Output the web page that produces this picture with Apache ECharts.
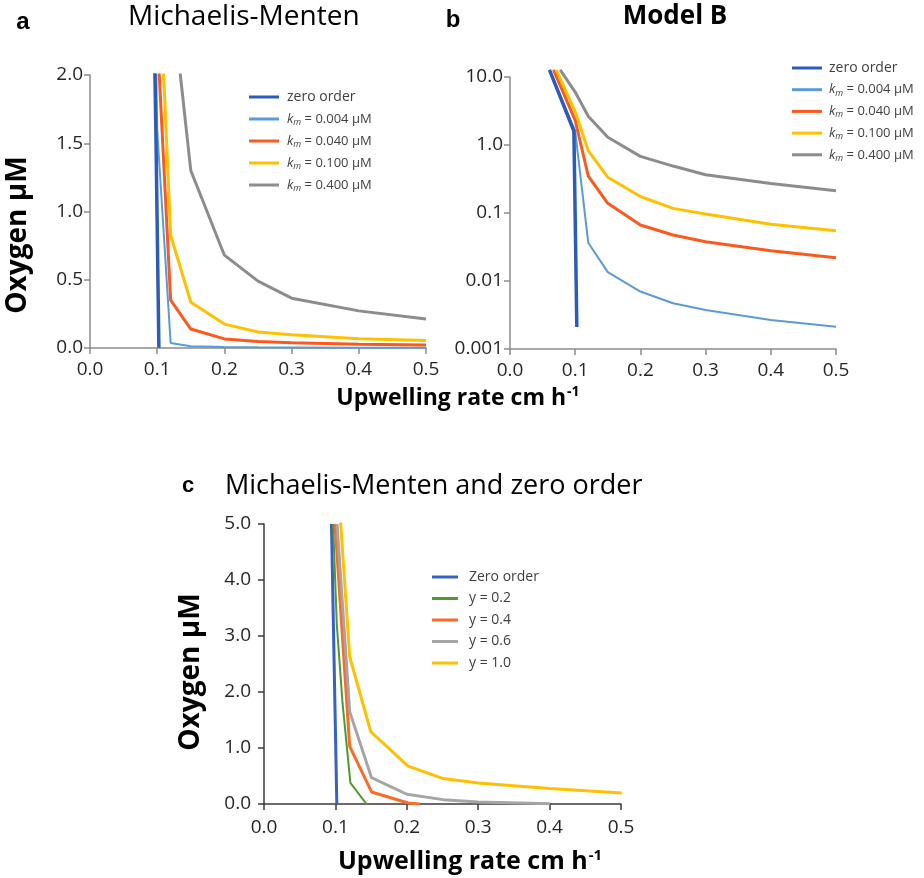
<!DOCTYPE html>
<html>
<head>
<meta charset="utf-8">
<script src="https://cdn.jsdelivr.net/npm/echarts/dist/echarts.min.js"></script>
<style>
  html, body { margin: 0; padding: 0; background: #fff; }
  #chart { width: 924px; height: 878px; }
</style>
</head>
<body>
<div id="chart"></div>
<script>
// panels a and b: same model runs, linear (a) and log (b) oxygen axis
const zeroX = [0.0605, 0.098, 0.1025]
const zeroY = [12.7, 1.6, 0.0021]
const km004X = [0.0605, 0.1, 0.12, 0.15, 0.2, 0.25, 0.3, 0.4, 0.5]
const km004Y = [12.7, 1.6, 0.0366, 0.0135, 0.0070, 0.0047, 0.00375, 0.00267, 0.00213]
const km040X = [0.0667, 0.1, 0.12, 0.15, 0.2, 0.25, 0.3, 0.4, 0.5]
const km040Y = [12.7, 2.3, 0.35, 0.139, 0.0667, 0.0475, 0.0378, 0.0279, 0.022]
const km100X = [0.0708, 0.1, 0.12, 0.15, 0.2, 0.25, 0.3, 0.4, 0.5]
const km100Y = [12.7, 3.1, 0.826, 0.335, 0.175, 0.117, 0.0966, 0.0683, 0.055]
const km400X = [0.077, 0.1, 0.12, 0.15, 0.2, 0.25, 0.3, 0.4, 0.5]
const km400Y = [12.7, 6.0, 2.65, 1.3, 0.68, 0.49, 0.365, 0.272, 0.213]
const abNames = ['zero order', 'km = 0.004 μM', 'km = 0.040 μM', 'km = 0.100 μM', 'km = 0.400 μM']

// panel c: Michaelis-Menten and zero order
const zeroCX = [0.0945, 0.102]
const zeroCY = [5.0, 0]
const g02X = [0.0968, 0.102, 0.11, 0.121, 0.1435]
const g02Y = [5.0, 3.2, 1.8, 0.376, 0]
const g04X = [0.0995, 0.12, 0.1506, 0.2019, 0.218]
const g04Y = [5.0, 1.03, 0.215, 0.018, 0]
const g06X = [0.1023, 0.12, 0.1506, 0.2, 0.251, 0.3, 0.4005]
const g06Y = [5.0, 1.65, 0.47, 0.174, 0.078, 0.036, 0.004]
const g10X = [0.1, 0.12, 0.1495, 0.2019, 0.251, 0.3, 0.4, 0.501]
const g10Y = [6.4, 2.63, 1.29, 0.675, 0.454, 0.376, 0.275, 0.197]
const cNames = ['Zero order', 'y = 0.2', 'y = 0.4', 'y = 0.6', 'y = 1.0']

const logTickLabels = ['0.001', '0.01', '0.1', '1.0', '10.0']

const abColors = ['#2c5cb9', '#5b9bd5', '#fb5a1c', '#ffc000', '#8c8c8c']
const cColors = ['#3562c4', '#4e9a2c', '#fc6a2a', '#a5a5a5', '#ffc000']

const FONT = '"Open Sans", sans-serif'

const chart = echarts.init(document.getElementById('chart'))

function pts(xs, ys) {
  return xs.map((x, i) => [x, ys[i]])
}

function line(name, xs, ys, color, width, idx, clip, z) {
  return {
    name: name,
    type: 'line',
    xAxisIndex: idx,
    yAxisIndex: idx,
    data: pts(xs, ys),
    symbol: 'none',
    showSymbol: false,
    clip: clip,
    z: z,
    color: color,
    lineStyle: { color: color, width: width },
    emphasis: { disabled: true }
  }
}

function xAxis(idx, axisColor, margin) {
  return {
    type: 'value',
    gridIndex: idx,
    min: 0,
    max: 0.5,
    interval: 0.1,
    axisLine: { show: true, onZero: false, lineStyle: { color: axisColor, width: 1.5 } },
    axisTick: { show: true, inside: false, length: 6, lineStyle: { color: axisColor, width: 1.5 } },
    axisLabel: { margin: margin, color: '#262626', fontSize: 19, fontFamily: FONT, formatter: v => v.toFixed(1) },
    splitLine: { show: false }
  }
}

function yAxisLin(idx, max, interval, axisColor, margin) {
  return {
    type: 'value',
    gridIndex: idx,
    min: 0,
    max: max,
    interval: interval,
    axisLine: { show: true, onZero: false, lineStyle: { color: axisColor, width: 1.5 } },
    axisTick: { show: true, inside: false, length: 6, lineStyle: { color: axisColor, width: 1.5 } },
    axisLabel: { margin: margin, color: '#262626', fontSize: 19, fontFamily: FONT, formatter: v => v.toFixed(1) },
    splitLine: { show: false }
  }
}

function kmRich(pad) {
  return {
    k: { fontStyle: 'italic', fontSize: 13, fontFamily: FONT, color: '#404040', lineHeight: 16, padding: [0, 0, 0, pad] },
    m: { fontStyle: 'italic', fontSize: 9, fontFamily: FONT, color: '#404040', lineHeight: 16, padding: [7, 0, 0, 0] },
    t: { fontSize: 13, fontFamily: FONT, color: '#404040', lineHeight: 16 },
    p: { fontSize: 14, fontFamily: FONT, color: '#404040', lineHeight: 16, padding: [0, 0, 0, pad] }
  }
}

function kmFormatter(name) {
  if (name.indexOf('km') !== 0) return '{p|' + name + '}'
  return '{k|k}{m|m}{t|' + name.slice(2) + '}'
}

function legend(names, left, top, width, gap, pad) {
  return {
    data: names,
    orient: 'vertical',
    left: left,
    top: top,
    icon: 'rect',
    itemWidth: width,
    itemHeight: 3,
    itemGap: gap,
    selectedMode: false,
    padding: 0,
    formatter: kmFormatter,
    textStyle: {
      color: '#404040',
      fontSize: 13,
      fontFamily: FONT,
      lineHeight: 16,
      rich: kmRich(pad)
    }
  }
}

const abSets = [[zeroX, zeroY], [km004X, km004Y], [km040X, km040Y], [km100X, km100Y], [km400X, km400Y]]
const abWidths = [3.5, 2, 3, 3, 3]
const cSets = [[zeroCX, zeroCY], [g02X, g02Y], [g04X, g04Y], [g06X, g06Y], [g10X, g10Y]]
const cWidths = [3, 2, 3, 3, 3]

const series = []
abSets.forEach((s, i) => series.push(line(abNames[i], s[0], s[1], abColors[i], abWidths[i], 0, true, i === 0 ? 5 : 2)))
abSets.forEach((s, i) => series.push(line(abNames[i], s[0], s[1], abColors[i], abWidths[i], 1, false, i === 0 ? 5 : 2)))
cSets.forEach((s, i) => series.push(line(cNames[i], s[0], s[1], cColors[i], cWidths[i], 2, true, 2)))

function label(text, x, y, font, align) {
  return {
    type: 'text', x: x, y: y,
    style: { text: text, font: font, fill: '#000', textAlign: align, textVerticalAlign: 'middle', align: align, verticalAlign: 'middle' }
  }
}

function xName(x, y, size, supSize) {
  return {
    type: 'text', x: x, y: y,
    style: {
      text: '{b|Upwelling rate cm h}{s|-1}', fill: '#000', textAlign: 'center', textVerticalAlign: 'middle', align: 'center', verticalAlign: 'middle',
      rich: {
        b: { font: 'bold ' + size + 'px ' + FONT, lineHeight: size + 4 },
        s: { font: 'bold ' + supSize + 'px ' + FONT, lineHeight: size + 4, padding: [0, 0, Math.round(size * 0.52), 1] }
      }
    }
  }
}

const option = {
  animation: false,
  backgroundColor: '#fff',
  grid: [
    { left: 90, top: 75, width: 336, height: 273 },
    { left: 510, top: 77, width: 326, height: 272 },
    { left: 264, top: 524, width: 357, height: 280 }
  ],
  xAxis: [xAxis(0, '#8c8c8c', 12), xAxis(1, '#8c8c8c', 12), xAxis(2, '#3a3a3a', 14)],
  yAxis: [
    yAxisLin(0, 2, 0.5, '#8c8c8c', 7),
    {
      type: 'log',
      gridIndex: 1,
      logBase: 10,
      min: 0.001,
      max: 10,
      axisLine: { show: true, onZero: false, lineStyle: { color: '#8c8c8c', width: 1.5 } },
      axisTick: { show: true, inside: false, length: 6, lineStyle: { color: '#8c8c8c', width: 1.5 } },
      axisLabel: {
        margin: 7, color: '#262626', fontSize: 19, fontFamily: FONT,
        formatter: v => logTickLabels[Math.round(Math.log10(v)) + 3]
      },
      splitLine: { show: false },
      minorTick: { show: false }
    },
    yAxisLin(2, 5, 1, '#3a3a3a', 13)
  ],
  legend: [
    legend(abNames, 249, 89, 30, 6, 3),
    legend(abNames, 792, 60, 30, 5.7, 2),
    legend(cNames, 432, 569, 26, 5.5, 6)
  ],
  graphic: [
    label('a', 23, 22, 'bold 24px "Liberation Sans"', 'center'),
    label('Michaelis-Menten', 128, 17, '28px ' + FONT, 'left'),
    label('b', 453, 20, 'bold 24px "Liberation Sans"', 'center'),
    label('Model B', 675, 17, 'bold 26px ' + FONT, 'center'),
    label('c', 188, 486, 'bold 22px "Liberation Sans"', 'center'),
    label('Michaelis-Menten and zero order', 225, 486, '27px ' + FONT, 'left'),
    Object.assign(label('Oxygen μM', 18, 235, 'bold 28px ' + FONT, 'center'), { rotation: Math.PI / 2 }),
    Object.assign(label('Oxygen μM', 191, 672, 'bold 28px ' + FONT, 'center'), { rotation: Math.PI / 2 }),
    xName(458, 398, 23, 14),
    xName(470, 862, 25, 15)
  ],
  series: series
}

option && chart.setOption(option)
</script>
</body>
</html>
